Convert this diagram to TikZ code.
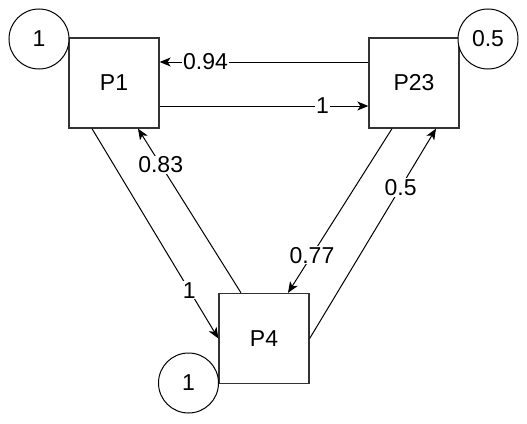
\documentclass[tikz,border=0pt]{standalone}
\usepackage{fontspec}
\setmainfont{Liberation Sans}
\usetikzlibrary{arrows.meta,positioning,calc}
\definecolor{pgedge}{RGB}{51,51,51}

\begin{document}
\begin{tikzpicture}[x=1pt,y=-1pt,
  box/.style={draw=pgedge,line width=1.3pt,fill=white,minimum size=90pt,inner sep=0pt,
              font=\fontsize{23}{27}\selectfont},
  circ/.style={circle,draw=black,line width=1pt,fill=white,minimum size=60pt,inner sep=0pt,
               font=\fontsize{23}{27}\selectfont},
  lbl/.style={fill=white,inner sep=1pt,font=\fontsize{23}{27}\selectfont},
  arr/.style={-{Stealth[length=11pt,width=9pt,inset=3pt]},line width=1pt,color=black}]

  \useasboundingbox (0,0) rectangle (527,423);

  % states
  \node[box] (p1) at (114,83) {P1};
  \node[box] (p23) at (414,83) {P23};
  \node[box] (p4) at (264,338.5) {P4};

  % rewards
  \node[circ] (r1) at (39,39) {1};
  \node[circ] (r23) at (488,39) {0.5};
  \node[circ] (r4) at (188.5,383) {1};

  % transitions
  \draw[arr] ([yshift=21pt]p23.west) -- node[lbl,pos=0.78]{0.94} ([yshift=21pt]p1.east);
  \draw[arr] ([yshift=-23pt]p1.east) -- node[lbl,pos=0.78]{1} ([yshift=-23pt]p23.west);
  \draw[arr] ([xshift=-22pt]p1.south) -- node[lbl,pos=0.77]{1} (p4.west);
  \draw[arr] ([xshift=-23pt]p4.north) -- node[lbl,pos=0.78]{0.83} ([xshift=24pt]p1.south);
  \draw[arr] ([xshift=-22pt]p23.south) -- node[lbl,pos=0.77]{0.77} ([xshift=24pt]p4.north);
  \draw[arr] (p4.east) -- node[lbl,pos=0.72]{0.5} ([xshift=22pt]p23.south);
\end{tikzpicture}
\end{document}
